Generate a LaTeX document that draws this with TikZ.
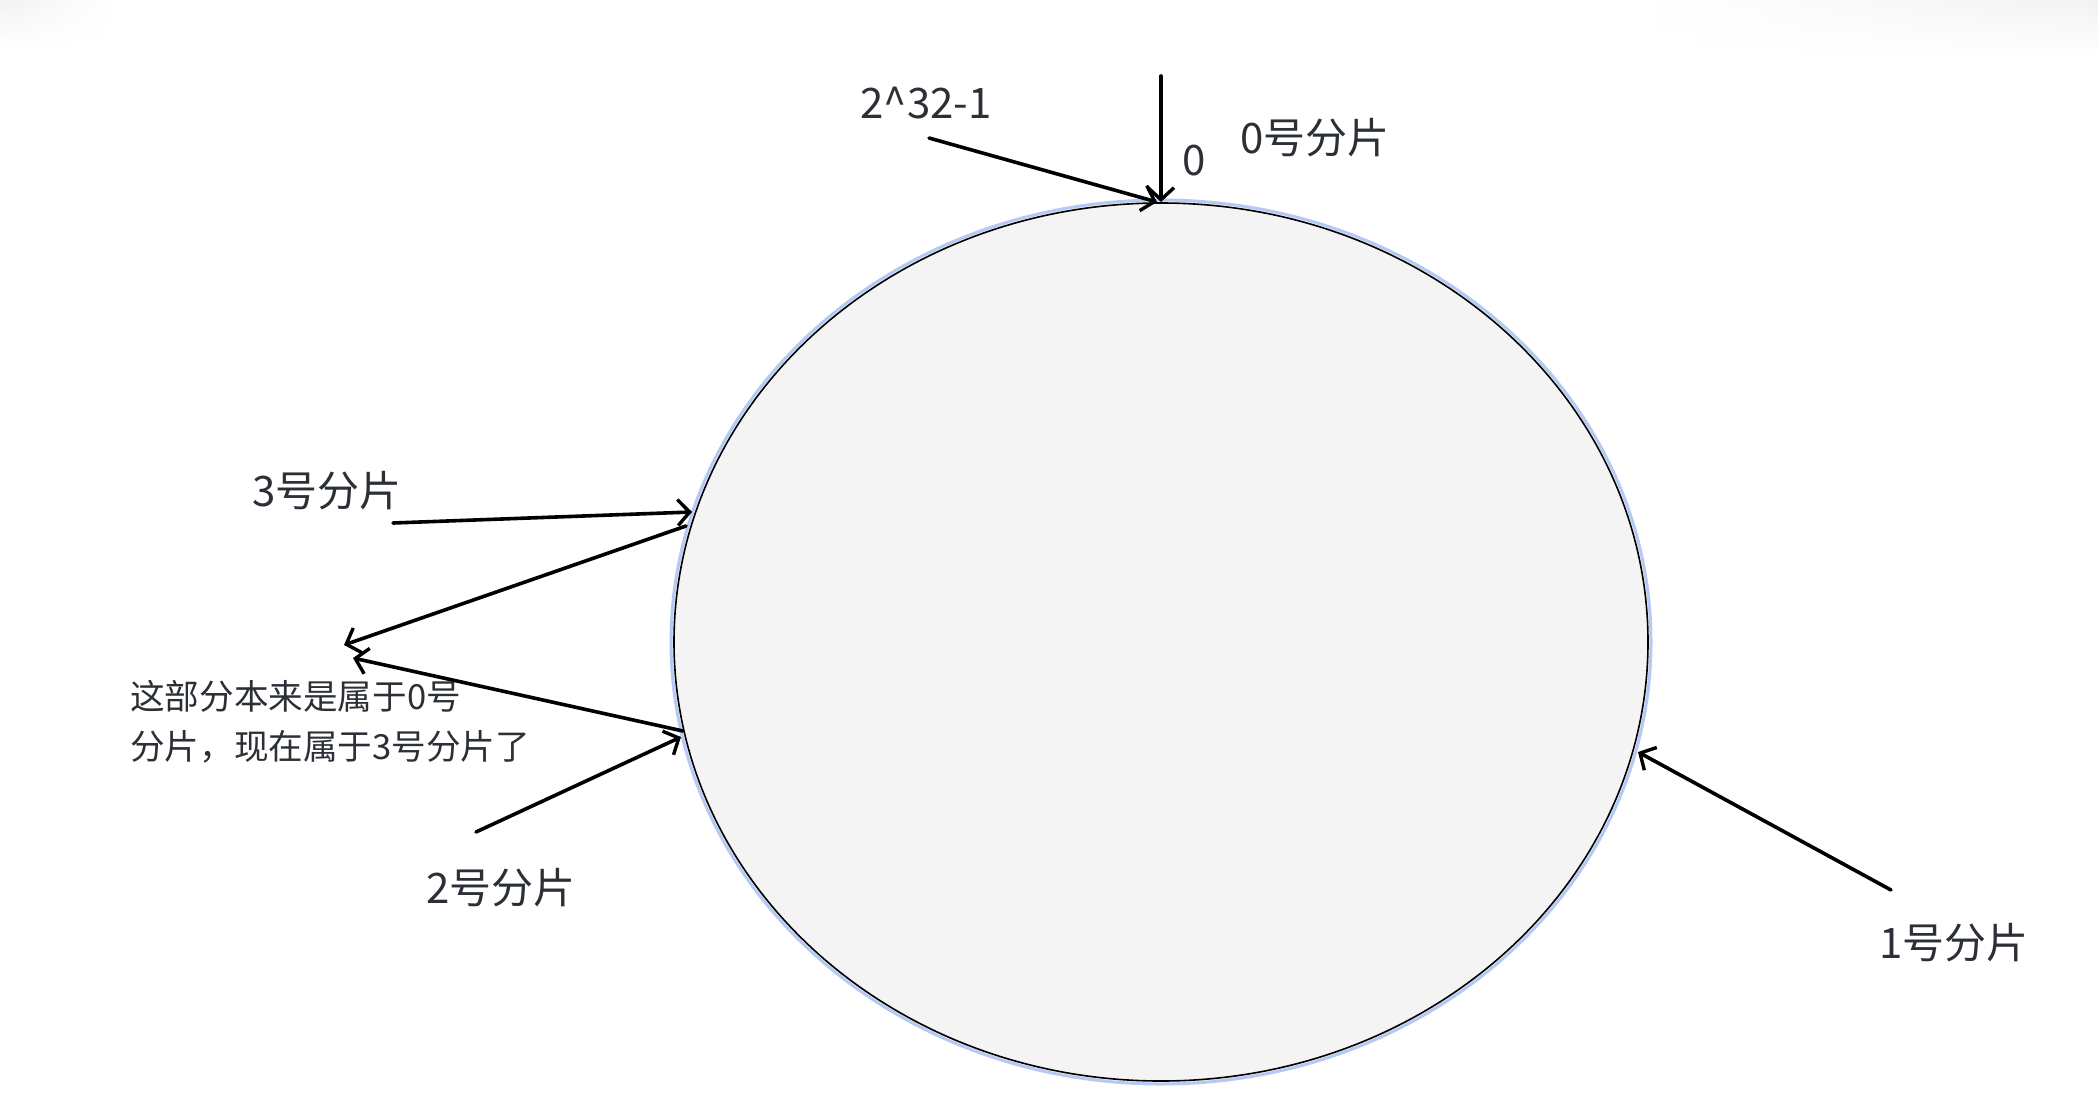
\documentclass[tikz,border=0pt]{standalone}
\usepackage{fontspec}
\setmainfont{Noto Sans CJK SC}
\usetikzlibrary{arrows.meta,shapes.geometric,fadings}
\definecolor{txt}{HTML}{2B2F36}
\definecolor{ringfill}{HTML}{F4F4F4}
\definecolor{halo}{HTML}{B4CAF5}
\begin{document}
\begin{tikzpicture}[x=1pt,y=-1pt,
  lbl/.style={font=\fontsize{42}{48}\selectfont, text=txt, inner sep=0pt},
  note/.style={font=\fontsize{34.6}{50}\selectfont, text=txt, inner sep=0pt, align=left},
  arr/.style={-{Straight Barb[length=12pt,width=26pt,line width=3.4pt]}, line width=3.6pt, black, line cap=round},
  ringshape/.style={ellipse, inner sep=0pt}]
\useasboundingbox (0,0) rectangle (2098,1100);
% faint corner shadows
\shade[left color=black!5, right color=white, path fading=south] (0,0) rectangle (115,48);
\shade[left color=white, right color=black!5, path fading=south] (1640,0) rectangle (2098,58);
% ring
\node[ringshape, minimum width=980pt, minimum height=884pt, fill=ringfill, draw=halo, line width=3pt] (halo) at (1161,642) {};
\node[ringshape, minimum width=974pt, minimum height=878pt, draw=black, line width=1.6pt] (ring) at (1161,642) {};
% coordinates
\coordinate (top) at (1161,202);
\coordinate (s0) at (1161,76);
\coordinate (s232) at (929,138);
\coordinate (tip232) at (1157,202);
\coordinate (s3) at (393,523);
\coordinate (e3) at (692,512);
\coordinate (p4) at (686,526);
\coordinate (e4) at (344,645);
\coordinate (p5) at (683,731);
\coordinate (e5) at (353,658);
\coordinate (s2) at (476,832);
\coordinate (e2) at (681,737);
\coordinate (s1) at (1891,890);
\coordinate (e1) at (1638,752);
% labels
\node[lbl] (t232) at (926,103) {2\textasciicircum32-1};
\node[lbl] (t0) at (1194,161) {0};
\node[lbl] (t0s) at (1315,138) {0号分片};
\node[lbl] (t3) at (327,491) {3号分片};
\node[note, anchor=west] (tn) at (130,722) {这部分本来是属于0号\\分片，现在属于3号分片了};
\node[lbl] (t2) at (501,888) {2号分片};
\node[lbl] (t1) at (1954,943) {1号分片};
% arrows
\draw[arr] (s0) -- (top);
\draw[arr] (s232) -- (tip232);
\draw[arr] (s3) -- (e3);
\draw[arr] (p4) -- (e4);
\draw[arr] (p5) -- (e5);
\draw[arr] (s2) -- (e2);
\draw[arr] (s1) -- (e1);
\end{tikzpicture}
\end{document}
